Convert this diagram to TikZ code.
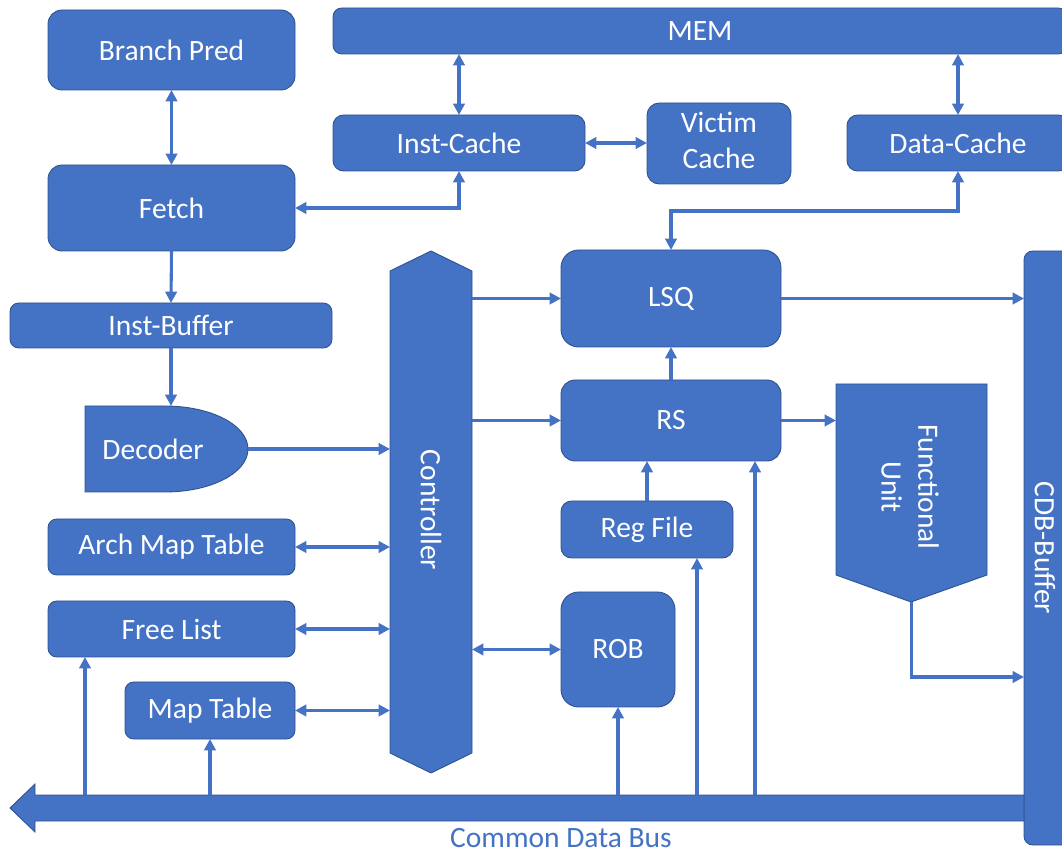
\documentclass[tikz,border=0pt]{standalone}
\usepackage{fontspec}
\setmainfont{Carlito}
\usepackage{graphicx}
\usetikzlibrary{arrows.meta,calc}
\definecolor{ob}{HTML}{4472C4}
\definecolor{obd}{HTML}{2F528F}
% \mkblk{name}{x1}{y1}{x2}{y2}{text}{corner radius}
\newcommand\mkblk[7]{\node[blk, rounded corners=#7, minimum width={(#4-#2)*0.02cm}, minimum height={(#5-#3)*0.02cm}] (#1) at ({(#2+#4)/2},{(#3+#5)/2}) {#6};}
\newcommand\mkgeo[5]{\node[geo, minimum width={(#4-#2)*0.02cm}, minimum height={(#5-#3)*0.02cm}] (#1) at ({(#2+#4)/2},{(#3+#5)/2}) {};}
\begin{document}
\begin{tikzpicture}[x=0.02cm,y=-0.02cm,
  lbl/.style={text=white, inner sep=0pt, font=\fontsize{16.8}{20}\selectfont},
  blk/.style={lbl, fill=ob, draw=obd, line width=0.5pt, outer sep=0pt},
  geo/.style={inner sep=0pt, outer sep=0pt},
  shp/.style={fill=ob, draw=obd, line width=0.5pt},
  tip/.tip={Triangle[length=6.5pt,width=6.5pt]},
  conn/.style={draw=ob, line width=1.75pt, -tip},
  bconn/.style={draw=ob, line width=1.75pt, tip-tip}]
\useasboundingbox (0,0) rectangle (1062,854);
\clip (0,0) rectangle (1062,854);
% blocks
\mkblk{bp}{48}{10}{295}{90}{Branch Pred}{8pt}
\mkblk{mem}{333}{8}{1067}{54}{MEM}{5pt}
\mkblk{ic}{333}{115}{585}{171}{Inst-Cache}{6pt}
\mkblk{vc}{647}{103}{791}{184}{\begin{tabular}{@{}c@{}}Victim\\[1pt]Cache\end{tabular}}{7pt}
\mkblk{dc}{847}{115}{1069}{171}{Data-Cache}{6pt}
\mkblk{fetch}{48}{165}{295}{251}{Fetch}{8pt}
\mkblk{ib}{10}{303}{332}{348}{Inst-Buffer}{5pt}
\mkblk{amt}{48}{519}{295}{575}{Arch Map Table}{5pt}
\mkblk{fl}{48}{601}{295}{657}{Free List}{5pt}
\mkblk{mt}{125}{682}{295}{739}{Map Table}{5pt}
\mkblk{lsq}{561}{250}{781}{347}{LSQ}{10pt}
\mkblk{rs}{561}{380}{781}{461}{RS}{8pt}
\mkblk{rf}{561}{501}{733}{558}{Reg File}{6pt}
\mkblk{rob}{561}{592}{675}{707}{ROB}{10pt}
\mkblk{cdb}{1024}{251}{1070}{845}{}{5pt}
\node[lbl] (cdbt) at (1045,548) {\rotatebox{-90}{CDB-Buffer}};
% decoder
\draw[shp] (85,406) -- (165,406) .. controls (211,406) and (248,425) .. (248,449)
  .. controls (248,473) and (211,492) .. (165,492) -- (85,492) -- cycle;
\mkgeo{dec}{85}{406}{248}{492}
\node[lbl] (dect) at (153,449) {Decoder};
% controller
\draw[shp] (431,251) -- (472,271) -- (472,753) -- (431,773) -- (390,753) -- (390,271) -- cycle;
\mkgeo{ctrl}{390}{251}{472}{773}
\node[lbl] (ctrlt) at (431,510) {\rotatebox{-90}{Controller}};
% functional unit
\draw[shp] (836,384) -- (987,384) -- (987,575) -- (911,602) -- (836,575) -- cycle;
\mkgeo{fu}{836}{384}{987}{602}
\node[lbl] (fut) at (907,487) {\rotatebox{-90}{\begin{tabular}{@{}c@{}}Functional\\[1pt]Unit\end{tabular}}};
% common data bus
\draw[shp] (1024,795) -- (35,795) -- (35,784) -- (10,808) -- (35,832) -- (35,821) -- (1024,821) -- cycle;
\mkgeo{bus}{35}{795}{1024}{821}
\node[lbl, text=ob] (buslbl) at (561,838) {Common Data Bus};
% connectors
\draw[bconn] (bp.south) -- (fetch.north);
\draw[bconn] (ic.north) -- (ic.north |- mem.south);
\draw[bconn] (dc.north) -- (dc.north |- mem.south);
\draw[bconn] (ic.east) -- (vc.west |- ic.east);
\draw[bconn] (fetch.east) -| (ic.south);
\draw[bconn] (lsq.north) -- ++(0,-39) -| (dc.south);
\draw[conn] (fetch.south) -- (ib.north);
\draw[conn] (ib.south) -- (ib.south |- dec.north);
\draw[conn] (dec.east) -- (dec.east -| ctrl.west);
\draw[conn] (lsq.west -| ctrl.east) -- (lsq.west);
\draw[conn] (rs.west -| ctrl.east) -- (rs.west);
\draw[bconn] (amt.east) -- (amt.east -| ctrl.west);
\draw[bconn] (fl.east) -- (fl.east -| ctrl.west);
\draw[bconn] (mt.east) -- (mt.east -| ctrl.west);
\draw[bconn] (rob.west -| ctrl.east) -- (rob.west);
\draw[conn] (rs.north) -- (lsq.south);
\draw[conn] (rf.north) -- (rf.north |- rs.south);
\draw[conn] (lsq.east) -- (lsq.east -| cdb.west);
\draw[conn] (rs.east) -- (rs.east -| fu.west);
\draw[conn] (fu.south) |- ($(cdb.west)+(0,129)$);
\draw[conn] (bus.north -| 85,0) -- (fl.south -| 85,0);
\draw[conn] (bus.north -| mt.south) -- (mt.south);
\draw[conn] (bus.north -| rob.south) -- (rob.south);
\draw[conn] (bus.north -| 697,0) -- (rf.south -| 697,0);
\draw[conn] (bus.north -| 755,0) -- (rs.south -| 755,0);
\end{tikzpicture}
\end{document}
